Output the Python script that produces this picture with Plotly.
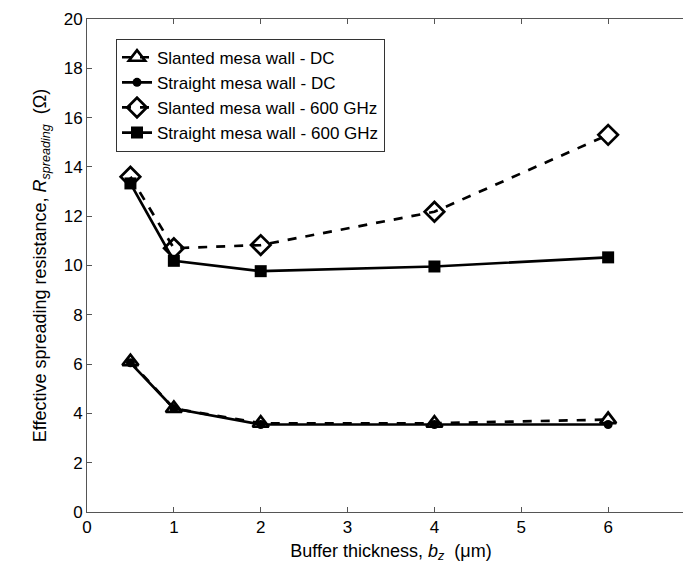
import plotly.graph_objects as go

x_vals = [0.5, 1, 2, 4, 6]
slanted_dc = [6.1, 4.2, 3.6, 3.6, 3.75]
straight_dc = [6.05, 4.2, 3.55, 3.55, 3.55]
slanted_600 = [13.6, 10.7, 10.83, 12.18, 15.3]
straight_600 = [13.33, 10.19, 9.77, 9.96, 10.33]
names = ["Slanted mesa wall - DC", "Straight mesa wall - DC",
         "Slanted mesa wall - 600 GHz", "Straight mesa wall - 600 GHz"]
x_ticks = [0, 1, 2, 3, 4, 5, 6, 7]
y_ticks = [0, 2, 4, 6, 8, 10, 12, 14, 16, 18, 20]

fig = go.Figure()
fig.add_trace(go.Scatter(x=x_vals, y=slanted_dc, name=names[0], mode="lines+markers",
                         line=dict(color="black", width=2.7, dash="dash"),
                         marker=dict(symbol="triangle-up-open", size=14, color="black", line=dict(width=2.7, color="black"))))
fig.add_trace(go.Scatter(x=x_vals, y=straight_dc, name=names[1], mode="lines+markers",
                         line=dict(color="black", width=2.7),
                         marker=dict(symbol="circle", size=9, color="black")))
fig.add_trace(go.Scatter(x=x_vals, y=slanted_600, name=names[2], mode="lines+markers",
                         line=dict(color="black", width=2.7, dash="dash"),
                         marker=dict(symbol="diamond-open", size=15, color="black", line=dict(width=2.7, color="black"))))
fig.add_trace(go.Scatter(x=x_vals, y=straight_600, name=names[3], mode="lines+markers",
                         line=dict(color="black", width=2.7),
                         marker=dict(symbol="square", size=12, color="black")))

axis_common = dict(showline=True, linecolor="#555555", linewidth=1, mirror="ticks",
                   ticks="inside", ticklen=5, tickcolor="#555555", showgrid=False, zeroline=False,
                   automargin=False, ticklabeloverflow="allow",
                   tickfont=dict(size=17, color="black"))
fig.update_xaxes(range=[0, 7], tickvals=x_ticks, ticktext=[str(v) for v in x_ticks],
                 title=dict(text="Buffer thickness, <i>b</i><sub><i>z</i></sub>  (μm)", font=dict(size=18, color="black"), standoff=7),
                 **axis_common)
fig.update_yaxes(range=[0, 20], tickvals=y_ticks, ticktext=[str(v) for v in y_ticks],
                 title=dict(text="Effective spreading resistance, <i>R</i><sub><i>spreading</i></sub>  (Ω)", font=dict(size=18, color="black"), standoff=12),
                 **axis_common)
fig.update_layout(
    width=691, height=563,
    margin=dict(l=79, r=4, t=11, b=59),
    plot_bgcolor="white", paper_bgcolor="white",
    font=dict(family="Liberation Sans, Arial, sans-serif", color="black"),
    legend=dict(x=0.0477, y=0.96, xanchor="left", yanchor="top",
                bgcolor="white", bordercolor="#333333", borderwidth=1,
                font=dict(size=17, color="black"), itemwidth=30, tracegroupgap=0),
    showlegend=True,
)
fig.write_html("out.html")
